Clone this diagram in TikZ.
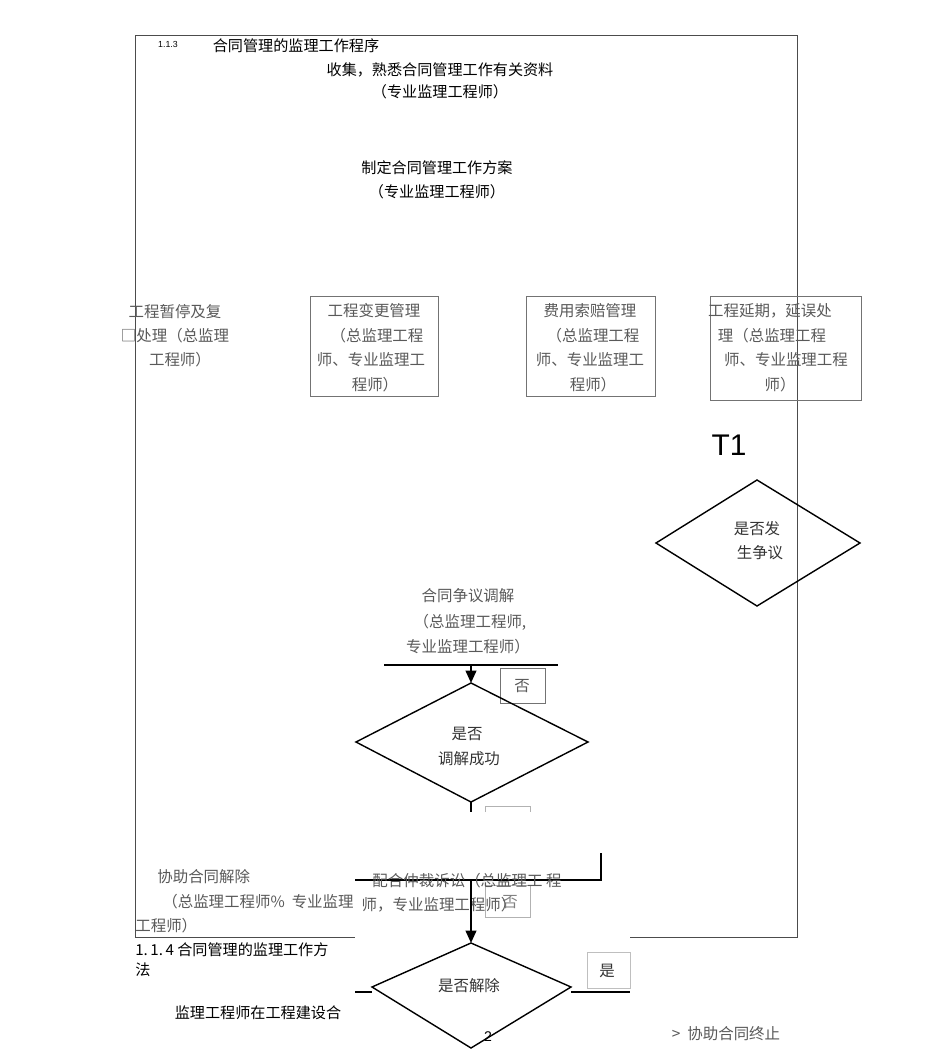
\documentclass[tikz,border=0pt]{standalone}
\usepackage{fontspec}
\setmainfont{Liberation Sans}
\newfontfamily\cjk{Noto Sans CJK SC}
\usetikzlibrary{shapes.geometric,arrows.meta}
\begin{document}
\begin{tikzpicture}[x=0.2mm,y=-0.2mm,
  t/.style={font=\cjk\fontsize{8.6pt}{9pt}\selectfont,inner sep=0pt},
  g/.style={font=\cjk\fontsize{8.8pt}{9pt}\selectfont,text=black!65,inner sep=0pt},
  gbox/.style={draw=black!55,line width=0.5pt},
  dia/.style={draw,line width=0.8pt},
  ln/.style={line width=0.8pt},
  arr/.style={line width=1.2pt,-{Triangle[length=7pt,width=6pt]}}]
\useasboundingbox (0,0) rectangle (950,1050);
% frame
\draw[black!70,line width=0.5pt] (135,937) -- (135,35) -- (797,35) -- (797,937) -- (630,937);
\draw[black!70,line width=0.5pt] (135,937) -- (355,937);
\node[inner sep=0pt,font=\fontsize{5pt}{6pt}\selectfont] (n113) at (168,44) {1.1.3};
\node[t] (title) at (296,46) {合同管理的监理工作程序};
\node[t] (c1) at (440,70) {收集，熟悉合同管理工作有关资料};
\node[t] (c2) at (440,92) {（专业监理工程师）};
\node[t] (d1) at (437,168) {制定合同管理工作方案};
\node[t] (d2) at (437,192) {（专业监理工程师）};
% left text
\node[g] (l1) at (175,312) {工程暂停及复};
\node[g] (l2) at (175,336) {□处理（总监理};
\node[g] (l3) at (180,360) {工程师）};
% boxes
\draw[gbox] (310,296) rectangle (438,396);
\node[g] (b1) at (374,311) {工程变更管理};
\node[g] (b2) at (377,336) {（总监理工程};
\node[g] (b3) at (371,360) {师、专业监理工};
\node[g] (b4) at (375,385) {程师）};
\draw[gbox] (526,296) rectangle (655,396);
\node[g] (e1) at (590,311) {费用索赔管理};
\node[g] (e2) at (593,336) {（总监理工程};
\node[g] (e3) at (590,360) {师、专业监理工};
\node[g] (e4) at (593,385) {程师）};
\draw[gbox] (710,296) rectangle (861,400);
\node[g] (f1) at (770,311) {工程延期，延误处};
\node[g] (f2) at (772,336) {理（总监理工程};
\node[g] (f3) at (786,360) {师、专业监理工程};
\node[g] (f4) at (780,385) {师）};
\node[inner sep=0pt,font=\fontsize{17pt}{18pt}\selectfont] (t1) at (729,445) {T1};
% diamond 1
\draw[dia] (656,543) coordinate (dl) -- (757,480) coordinate (dt) -- (860,543) coordinate (dr) -- (757,606) coordinate (db) -- cycle;
\node[g,text=black!80] (q1) at (757,529) {是否发};
\node[g,text=black!80] (q1b) at (760,553) {生争议};
% mediation
\node[g] (m1) at (468,596) {合同争议调解};
\node[g] (m2) at (470,622) {（总监理工程师,};
\node[g] (m3) at (468,647) {专业监理工程师）};
\draw[ln] (384,665) coordinate (ma) -- (558,665) coordinate (mb);
\coordinate (mtop) at (471,665);
\draw[gbox] (500,668) rectangle (545,703);
\node[g] (no1) at (522,686) {否};
% diamond 2
\draw[dia] (356,742) -- (471,683) coordinate (d2t) -- (588,742) -- (471,802) coordinate (d2b) -- cycle;
\draw[arr] (mtop) -- (d2t);
\node[g,text=black!80] (q2) at (467,734) {是否};
\node[g,text=black!80] (q2b) at (469,759) {调解成功};
\draw[ln] (d2b) -- (471,812);
\draw[black!30,line width=0.4pt] (485,812) -- (485,806) -- (530,806) -- (530,812);
% arbitration
\draw[ln] (601,853) -- (601,880) -- (355,880);
\coordinate (atop) at (471,880);
\draw[gbox,black!30] (485,885) rectangle (530,917);
\node[g,text=black!50] (no2) at (510,902) {否};
\node[g] (a1) at (467,881) {配合仲裁诉讼（总监理工 程};
\node[g] (a2) at (439,905) {师，专业监理工程师）};
% diamond 3
\draw[dia] (372,987) -- (471,943) coordinate (d3t) -- (571,987) -- (471,1048) coordinate (d3b) -- cycle;
\draw[arr] (atop) -- (d3t);
\draw[ln] (355,992) -- (372,992);
\draw[ln] (571,992) -- (630,992);
\node[g,text=black!80] (q3) at (469,986) {是否解除};
\draw[black!25,line width=0.4pt] (587,952) rectangle (630,988);
\node[g,text=black!80] (yes) at (607,971) {是};
\node[inner sep=0pt,font=\fontsize{8pt}{9pt}\selectfont] (pg) at (488,1037) {2};
% left bottom
\node[g,anchor=west] (h1) at (157,877) {协助合同解除};
\node[g,anchor=west] (h2) at (162,902) {（总监理工程师\%\ \ 专业监理};
\node[g,anchor=west] (h3) at (135,926) {工程师）};
\node[t,anchor=west] (s1) at (135,950) {1.\,1.\,4 合同管理的监理工作方};
\node[t,anchor=west] (s2) at (135,970) {法};
\node[t] (s3) at (258,1013) {监理工程师在工程建设合};
\node[g] (end) at (726,1034) {\textgreater\ \ 协助合同终止};
\end{tikzpicture}
\end{document}
